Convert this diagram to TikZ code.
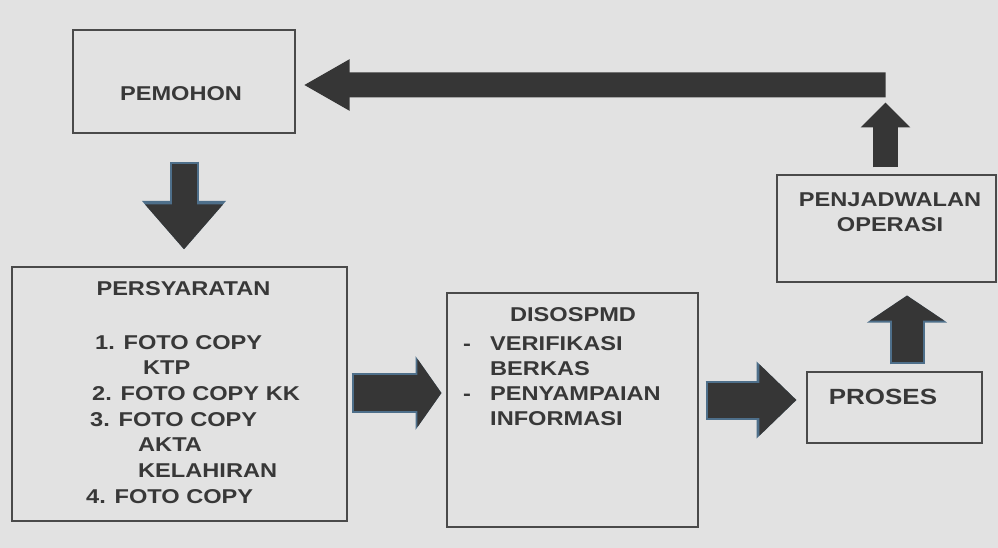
\documentclass[tikz,border=0pt]{standalone}
\usepackage{fontspec}
\setmainfont{Liberation Sans}[FakeStretch=1.18]
\usetikzlibrary{arrows.meta,calc}
\definecolor{paper}{HTML}{E2E2E2}
\definecolor{ink}{HTML}{383838}
\definecolor{boxline}{HTML}{4A4A4A}
\definecolor{rim}{HTML}{4E6F8A}
\definecolor{fillarr}{HTML}{363636}

\begin{document}
\begin{tikzpicture}[x=1pt,y=-1pt,
    box/.style={draw=boxline,line width=1.1pt,inner sep=0pt},
    lbl/.style={text=ink,inner sep=0pt,font=\fontsize{20}{25.7}\selectfont\bfseries},
    arr/.style n args={3}{draw=fillarr,line width=#1,-{Triangle[width=#2,length=#3]}},
    rimarr/.style n args={3}{arr={#1}{#2}{#3},
      preaction={draw=rim,line width=#1+4pt,shorten <=-2pt,-{Triangle[width=#2,length=#3,scale=1.08]}}}]
  \fill[paper] (0,0) rectangle (998,548);
  \useasboundingbox (0,0) rectangle (998,548);

  \node[box,minimum width=222pt,minimum height=103pt] (pemohon) at (184,81.5) {};
  \node[box,minimum width=335pt,minimum height=254pt] (syarat) at (179.5,394) {};
  \node[box,minimum width=251pt,minimum height=234pt] (disos) at (572.5,410) {};
  \node[box,minimum width=175pt,minimum height=71pt] (proses) at (894.5,407.5) {};
  \node[box,minimum width=219pt,minimum height=107pt] (jadwal) at (886.5,228.5) {};

  \node[lbl] (pemohontxt) at (181,94) {PEMOHON};
  \node[lbl] (syarattxt) at (183.5,289) {PERSYARATAN};
  \node[lbl,anchor=north west,align=left] (syaratlist) at (86,335)
    {\hspace*{9pt}1. FOTO COPY\\\hspace*{57pt}KTP\\\hspace*{6pt}2. FOTO COPY KK\\
     \hspace*{4pt}3. FOTO COPY\\\hspace*{52pt}AKTA\\\hspace*{52pt}KELAHIRAN\\4. FOTO COPY};
  \node[lbl] (disostxt) at (573,315) {DISOSPMD};
  \node[lbl,anchor=north west,align=left,font=\fontsize{20}{25}\selectfont\bfseries] (disoslist) at (463,336)
    {\makebox[27pt][l]{-}VERIFIKASI\\\hspace*{27pt}BERKAS\\
     \makebox[27pt][l]{-}PENYAMPAIAN\\\hspace*{27pt}INFORMASI};
  \node[lbl,align=center,font=\fontsize{20}{25}\selectfont\bfseries] (jadwaltxt) at (890,212.5) {PENJADWALAN\\OPERASI};
  \node[lbl,font=\fontsize{22}{26}\selectfont\bfseries] (prosestxt) at (883,397) {PROSES};

  \coordinate (a1) at ($(pemohon.south)+(0,30)$);
  \coordinate (a2) at ($(syarat.north)+(4.5,-17)$);
  \coordinate (b1) at ($(syarat.east)+(6,-1)$);
  \coordinate (b2) at ($(disos.west)+(-5,-17)$);
  \coordinate (c1) at ($(disos.east)+(9,-10)$);
  \coordinate (c2) at ($(proses.west)+(-10,-7.5)$);
  \coordinate (d1) at ($(proses.north)+(12.5,-9)$);
  \coordinate (d2) at ($(jadwal.south)+(20.5,13)$);
  \coordinate (e1) at ($(jadwal.north)+(-1,-7)$);
  \coordinate (e2) at ($(jadwal.north)+(-1,-72)$);
  \coordinate (f1) at ($(jadwal.north)+(-1,-89.5)$);
  \coordinate (f2) at ($(pemohon.east)+(8,3.5)$);

  \draw[rimarr={25pt}{75pt}{45pt}] (a1) to (a2);
  \draw[rimarr={36pt}{67pt}{24pt}] (b1) to (b2);
  \draw[rimarr={35pt}{69pt}{37pt}] (c1) to (c2);
  \draw[rimarr={31pt}{73pt}{25pt}] (d1) to (d2);
  \draw[arr={25pt}{48pt}{25pt}] (e1) to (e2);
  \draw[arr={25pt}{48pt}{46pt}] (f1) to (f2);
\end{tikzpicture}
\end{document}
